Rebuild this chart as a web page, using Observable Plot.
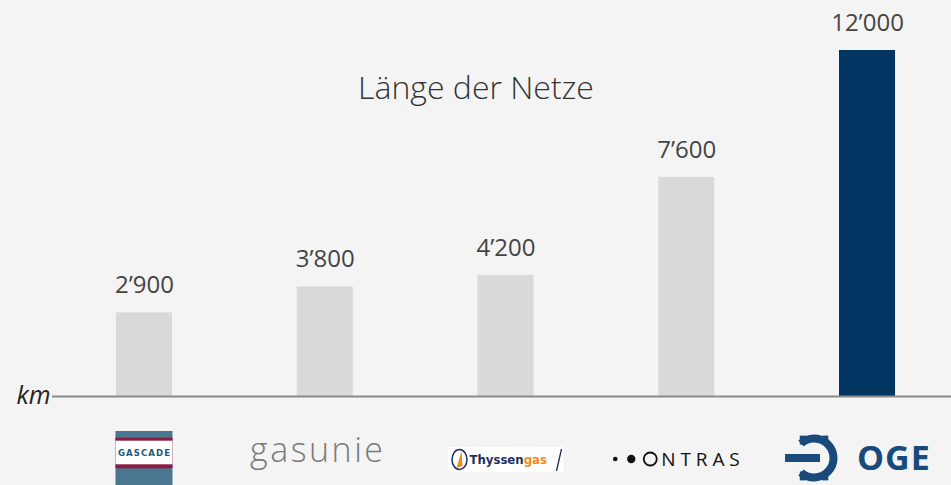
<!DOCTYPE html>
<html>
<head>
<meta charset="utf-8">
<script src="https://cdn.jsdelivr.net/npm/d3@7"></script>
<script src="https://cdn.jsdelivr.net/npm/@observablehq/plot@0.6"></script>
<style>
  html, body { margin: 0; padding: 0; background: #f4f4f4; }
  #chart svg { display: block; background: #f4f4f4; }
</style>
</head>
<body>
<div id="chart"></div>
<script>
const companies = ["GASCADE", "Gasunie", "Thyssengas", "ONTRAS", "OGE"];
const lengths = [2900, 3800, 4200, 7600, 12000];
const highlight = "OGE";
const title = "Länge der Netze";
const unit = "km";

const data = companies.map((c, i) => ({company: c, km: lengths[i]}));
const fmt = v => d3.format(",")(v).replace(/,/g, "\u2019");

function logos(index, scales, values, dimensions) {
  const g = d3.create("svg:g").attr("text-anchor", "start");
  const x = scales.x, y0 = scales.y(0);
  const bw = x.bandwidth();
  const cx = c => x(c) + bw / 2;

  // GASCADE
  {
    const c = cx("GASCADE"), l = c - 28.5, w = 57;
    g.append("rect").attr("x", l).attr("y", y0 + 35).attr("width", w).attr("height", 54).attr("fill", "#4b7690");
    g.append("rect").attr("x", l).attr("y", y0 + 41.7).attr("width", w).attr("height", 30.6).attr("fill", "#8b1c41");
    g.append("rect").attr("x", l).attr("y", y0 + 44.7).attr("width", w).attr("height", 23.6).attr("fill", "#ffffff");
    g.append("text").attr("x", c).attr("y", y0 + 59.7).attr("text-anchor", "middle")
      .attr("font-family", "DejaVu Sans Condensed, DejaVu Sans").attr("font-weight", "bold")
      .attr("font-size", 9.5).attr("textLength", 52).attr("fill", "#1e5a72").text("GASCADE");
  }
  // Gasunie
  {
    const c = cx("Gasunie") - 7;
    g.append("text").attr("x", c).attr("y", y0 + 66).attr("text-anchor", "middle")
      .attr("font-family", "Open Sans").attr("font-weight", 300).attr("font-size", 34)
      .attr("letter-spacing", 2.5).attr("fill", "#7a7a7a").text("gasunie");
  }
  // Thyssengas
  {
    const c = cx("Thyssengas");
    const l = c - 57;
    g.append("rect").attr("x", l).attr("y", y0 + 51).attr("width", 115).attr("height", 25).attr("fill", "#ffffff");
    g.append("ellipse").attr("cx", l + 11).attr("cy", y0 + 63.5).attr("rx", 7.5).attr("ry", 10)
      .attr("fill", "#ffffff").attr("stroke", "#1d2f5e").attr("stroke-width", 1.5);
    g.append("path").attr("d", `M${l + 13},${y0 + 55} L${l + 8},${y0 + 72} L${l + 14},${y0 + 70} Z`).attr("fill", "#f08a1c");
    const t = g.append("text").attr("x", l + 21).attr("y", y0 + 68)
      .attr("font-family", "DejaVu Sans Condensed, DejaVu Sans").attr("font-weight", "bold").attr("font-size", 13);
    t.append("tspan").attr("fill", "#1d2f5e").text("Thyssen");
    t.append("tspan").attr("fill", "#f08a1c").text("gas");
    g.append("path").attr("d", `M${l + 113},${y0 + 53} L${l + 108},${y0 + 75}`).attr("stroke", "#1d2f5e").attr("stroke-width", 1.3).attr("fill", "none");
  }
  // ONTRAS
  {
    const c = cx("ONTRAS");
    g.append("circle").attr("cx", c - 71).attr("cy", y0 + 63).attr("r", 2.3).attr("fill", "#111");
    g.append("circle").attr("cx", c - 55).attr("cy", y0 + 63).attr("r", 4.2).attr("fill", "#111");
    g.append("circle").attr("cx", c - 36).attr("cy", y0 + 63).attr("r", 6.5).attr("fill", "none")
      .attr("stroke", "#111").attr("stroke-width", 1.8);
    g.append("text").attr("x", c - 25).attr("y", y0 + 70)
      .attr("font-family", "Open Sans").attr("font-size", 19).attr("letter-spacing", 4.9)
      .attr("fill", "#111").text("NTRAS");
  }
  // OGE
  {
    const c = cx("OGE");
    const col = "#1a4a7c";
    const ix = c - 53, iy = y0 + 62, r = 19.5;
    const ang = 48 * Math.PI / 180;
    const x1 = ix - r * Math.cos(ang), y1 = iy - r * Math.sin(ang), y2 = iy + r * Math.sin(ang);
    g.append("path").attr("d", `M${x1},${y1} A${r},${r} 0 1 1 ${x1},${y2}`)
      .attr("fill", "none").attr("stroke", col).attr("stroke-width", 8);
    const teeth = [-130, -50, 50, 130];
    for (const a of teeth) {
      const rad = a * Math.PI / 180;
      const ux = Math.cos(rad), uy = Math.sin(rad);
      const px = ix + (r - 2) * ux, py = iy + (r - 2) * uy;
      g.append("path").attr("d", `M${px},${py} L${px},${py + Math.sign(uy) * 9}`)
        .attr("stroke", col).attr("stroke-width", 6);
    }
    g.append("path").attr("d", `M${ix - 29},${iy} L${ix + 6},${iy}`)
      .attr("stroke", col).attr("stroke-width", 8);
    g.append("text").attr("x", c - 10).attr("y", y0 + 74)
      .attr("font-family", "Open Sans").attr("font-weight", "bold").attr("font-size", 34)
      .attr("letter-spacing", 1).attr("fill", col).text("OGE");
  }
  return g.node();
}

const chart = Plot.plot({
  width: 951,
  height: 485,
  marginLeft: 52,
  marginRight: 0,
  marginTop: 0,
  marginBottom: 0,
  style: {background: "#f4f4f4", fontFamily: "Open Sans"},
  x: {domain: companies, range: [53.6, 957.4], paddingInner: 0.69, paddingOuter: 0.345, round: false, axis: null},
  y: {domain: [0, 12000], range: [396, 50], axis: null},
  marks: [
    Plot.barY(data, {x: "company", y: "km", fill: d => d.company === highlight ? "#003461" : "#d9d9d9"}),
    Plot.ruleY([0], {stroke: "#8a8a8a", strokeWidth: 2}),
    Plot.text(data, {x: "company", y: "km", text: d => fmt(d.km), dy: -27.5, lineAnchor: "middle",
      fontSize: 24, fill: "#444", fontFamily: "Open Sans"}),
    Plot.text([title], {frameAnchor: "top", dx: -26, dy: 88, lineAnchor: "middle",
      fontSize: 32, fontWeight: 300, fill: "#333", fontFamily: "Open Sans"}),
    Plot.text([unit], {y: [0], frameAnchor: "left", textAnchor: "end", dx: -2, dy: -1, lineAnchor: "middle",
      fontSize: 25, fontStyle: "italic", fill: "#222", fontFamily: "Open Sans"}),
    logos
  ]
});
document.getElementById("chart").append(chart);
</script>
</body>
</html>
